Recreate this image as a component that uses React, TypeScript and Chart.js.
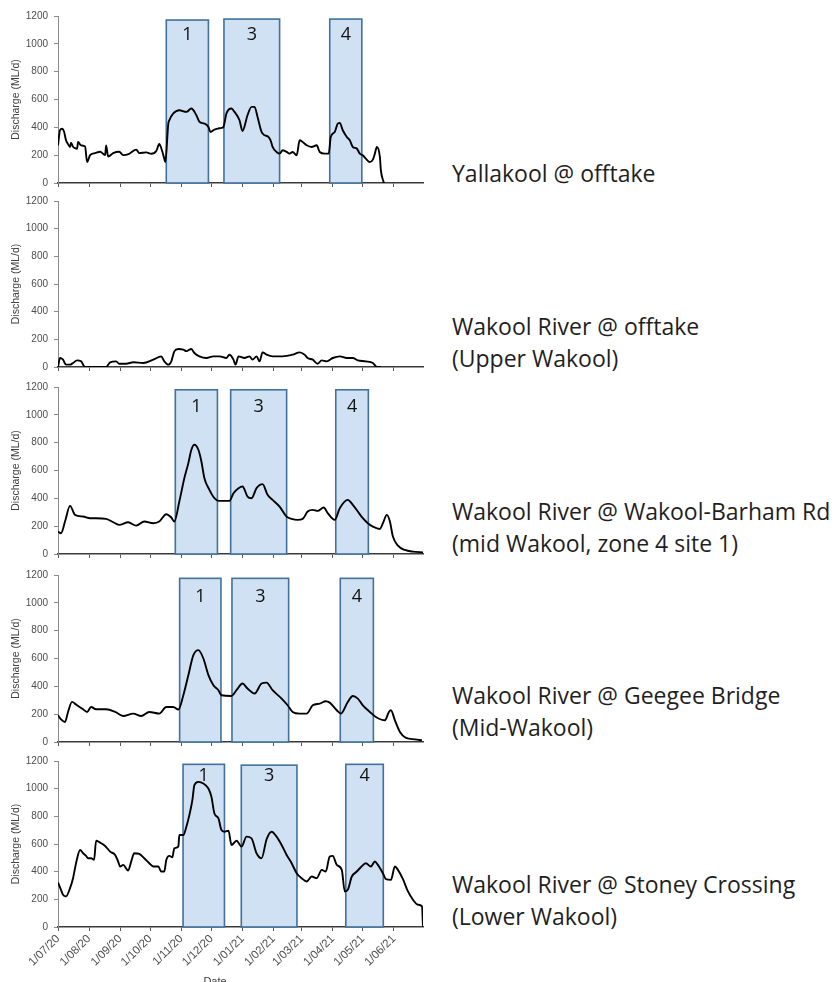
import { useEffect, useRef } from "react";
import { Chart, registerables } from "chart.js";
Chart.register(...registerables);

// x axis: day index from 1 Jul 2020 (0) to 30 Jun 2021 (364)
const monthTickDays = [0, 31, 62, 92, 123, 153, 184, 215, 243, 274, 304, 335];
const monthTickLabels = ["1/07/20", "1/08/20", "1/09/20", "1/10/20", "1/11/20", "1/12/20", "1/01/21", "1/02/21", "1/03/21", "1/04/21", "1/05/21", "1/06/21"];

const boxNumbers = ["1", "3", "4"];

// Yallakool @ offtake
const yallakoolDays = [0,2,4,6,8,10,12,13,15,17,19,20,23,27,29,32,37,42,47,48,50,55,61,65,71,78,81,88,93,98,101,103,106,107,110,111,115,121,128,133,138,141,146,150,152,156,163,165,168,173,176,181,184,189,193,196,199,203,206,209,212,214,218,221,224,228,231,234,238,241,244,248,253,258,261,266,270,272,276,279,281,284,288,291,294,298,301,304,307,311,314,316,318,321,322,325];
const yallakoolFlow = [270,380,390,370,307,280,259,290,260,250,245,295,270,262,151,200,215,225,200,270,190,215,225,200,210,240,215,220,210,230,280,250,175,150,427,450,500,523,511,535,487,440,427,403,367,384,396,403,500,535,511,451,374,487,547,547,475,367,343,336,307,259,223,211,235,223,211,223,199,307,295,271,259,271,223,211,211,331,367,427,432,379,331,307,259,247,211,199,175,151,168,211,259,187,91,0];
const yallakoolBoxStart = [108, 165.5, 271];
const yallakoolBoxEnd = [150, 221, 303];
const yallakoolBoxTop = [1171, 1178, 1178];

// Wakool River @ offtake
const wakoolOfftakeDays = [0,1,2,5,8,12,15,19,23,27,29,48,52,58,61,68,75,85,95,103,106,110,113,116,120,125,128,133,136,141,148,155,161,168,171,175,177,180,186,191,194,198,201,204,208,214,224,234,241,246,249,254,259,263,268,274,281,288,294,299,307,314,318,322];
const wakoolOfftakeFlow = [0,40,65,53,17,17,29,48,41,0,0,0,34,41,24,24,34,29,53,77,41,17,41,113,130,125,115,130,101,77,65,77,77,65,89,53,17,77,65,77,53,77,41,106,89,77,77,89,106,89,65,53,24,48,41,65,77,65,65,48,41,29,0,0];

// Wakool River @ Wakool-Barham Rd
const barhamDays = [0,3,7,12,17,25,32,38,48,57,61,70,78,86,95,101,108,113,116,121,126,130,133,136,140,143,146,151,156,160,171,175,180,184,189,193,198,204,209,214,221,228,233,239,244,249,254,259,265,269,276,281,289,294,299,304,309,314,321,324,328,331,334,339,346,354,364];
const barhamFlow = [161,149,233,346,281,269,257,257,252,221,209,228,204,233,221,233,286,262,233,377,545,653,749,785,749,665,545,461,401,382,382,437,473,485,413,401,473,502,425,389,341,269,252,245,252,305,317,310,334,293,245,329,389,353,305,257,221,197,180,221,281,233,125,60,29,17,12];
const barhamBoxStart = [117, 172.2, 277];
const barhamBoxEnd = [159, 228, 309.5];
const barhamBoxTop = [1180, 1180, 1180];

// Wakool River @ Geegee Bridge
const geegeeDays = [0,3,7,10,14,18,25,29,33,38,48,57,65,75,83,91,101,108,115,120,125,130,135,140,145,150,155,160,163,173,178,184,189,196,203,208,214,223,229,234,241,248,254,261,267,271,278,282,289,294,299,304,311,317,326,330,332,336,341,347,356,363];
const geegeeFlow = [192,163,144,216,288,269,235,216,252,235,235,216,187,204,187,216,204,252,252,233,336,480,624,660,600,480,408,372,336,331,372,420,384,348,420,427,372,312,264,216,204,204,264,276,293,283,228,204,288,331,312,264,216,180,156,216,228,156,72,29,19,12];
const geegeeBoxStart = [121.3, 173.5, 281.5];
const geegeeBoxEnd = [162.5, 230, 314.5];
const geegeeBoxTop = [1176, 1176, 1176];

// Wakool River @ Stoney Crossing
const stoneyDays = [0,3,5,8,12,15,18,22,25,28,30,33,36,38,42,47,52,57,60,62,65,70,73,76,81,86,91,95,100,103,106,108,111,114,116,120,121,125,128,131,134,136,140,145,150,153,156,160,163,166,170,173,178,183,188,193,198,203,208,213,218,223,228,233,238,243,248,253,258,263,267,271,274,278,283,286,289,293,298,302,307,312,316,319,324,327,332,336,339,344,349,354,359,363,364];
const stoneyFlow = [322,269,233,221,281,353,461,557,533,514,497,497,485,624,610,586,545,521,473,437,449,408,473,533,528,497,461,437,437,401,401,485,514,504,569,581,665,665,725,809,917,1025,1049,1037,1001,941,821,785,701,689,696,593,624,581,653,641,533,497,634,689,653,593,521,461,389,353,329,365,353,413,401,509,514,449,413,257,269,365,401,432,461,437,473,449,389,346,341,437,413,346,257,197,161,149,0];
const stoneyBoxStart = [124.7, 182.8, 287];
const stoneyBoxEnd = [166, 238.3, 324.4];
const stoneyBoxTop = [1176, 1170, 1176];

const siteLabels = [
  ["Yallakool @ offtake"],
  ["Wakool River @ offtake", "(Upper Wakool)"],
  ["Wakool River @ Wakool-Barham Rd", "(mid Wakool, zone 4 site 1)"],
  ["Wakool River @ Geegee Bridge", "(Mid-Wakool)"],
  ["Wakool River @ Stoney Crossing", "(Lower Wakool)"],
];

Chart.defaults.font.family = "'Liberation Sans', Arial, sans-serif";

const boxPlugin = {
  id: "eventBoxes",
  beforeDatasetsDraw(chart: any, _args: any, opts: any) {
    if (!opts || !opts.starts) return;
    const { ctx } = chart;
    const x = chart.scales.x;
    const y = chart.scales.y;
    ctx.save();
    for (let i = 0; i < opts.starts.length; i++) {
      const x0 = x.getPixelForValue(opts.starts[i]);
      const x1 = x.getPixelForValue(opts.ends[i]);
      const y0 = y.getPixelForValue(opts.tops[i]);
      const y1 = y.getPixelForValue(0);
      ctx.fillStyle = "#cfe1f3";
      ctx.fillRect(x0, y0, x1 - x0, y1 - y0);
      ctx.strokeStyle = "#41719c";
      ctx.lineWidth = 1.6;
      ctx.strokeRect(x0, y0, x1 - x0, y1 - y0);
    }
    ctx.restore();
  },
  afterDatasetsDraw(chart: any, _args: any, opts: any) {
    if (!opts || !opts.starts) return;
    const { ctx } = chart;
    const x = chart.scales.x;
    const y = chart.scales.y;
    ctx.save();
    ctx.font = "18px 'Open Sans', sans-serif";
    ctx.fillStyle = "#111";
    ctx.textAlign = "center";
    ctx.textBaseline = "middle";
    for (let i = 0; i < opts.starts.length; i++) {
      const cx = x.getPixelForValue((opts.starts[i] + opts.ends[i]) / 2);
      const cy = y.getPixelForValue(opts.labelValue);
      ctx.fillText(opts.numbers[i], cx, cy);
    }
    ctx.restore();
  },
};

type PanelCfg = {
  days: number[];
  flow: number[];
  boxes: any;
  canvasTop: number;
  height: number;
  xHeight: number;
  showXLabels: boolean;
};

// y tick label padding (6) + half label height (6) is reserved above/below the plot
const PAD = 12;

function Panel({ cfg }: { cfg: PanelCfg }) {
  const ref = useRef<HTMLCanvasElement>(null);
  useEffect(() => {
    const chart = new Chart(ref.current!, {
      type: "line",
      data: {
        datasets: [
          {
            data: cfg.days.map((d, i) => ({ x: d, y: cfg.flow[i] })),
            borderColor: "#000",
            borderWidth: 1.9,
            pointRadius: 0,
            cubicInterpolationMode: "monotone",
            fill: false,
          },
        ],
      },
      options: {
        responsive: false,
        animation: false,
        devicePixelRatio: 1,
        layout: { padding: { top: PAD, right: 17, left: 0, bottom: 0 } },
        plugins: {
          legend: { display: false },
          tooltip: { enabled: false },
          eventBoxes: cfg.boxes,
        } as any,
        scales: {
          x: {
            type: "linear",
            min: 0,
            max: 364,
            afterBuildTicks: (s: any) => {
              s.ticks = monthTickDays.map((v) => ({ value: v }));
            },
            ticks: {
              display: cfg.showXLabels,
              autoSkip: false,
              minRotation: 45,
              maxRotation: 45,
              padding: 1,
              color: "#4d4d4d",
              font: { size: 11.5 },
              callback: (_v: any, i: number) => monthTickLabels[i],
            },
            grid: { drawOnChartArea: false, drawTicks: true, tickLength: 4, color: "#595959" },
            border: { color: "#3a3a3a", width: 1.5 },
            afterFit: (s: any) => {
              s.height = cfg.xHeight;
            },
          },
          y: {
            min: 0,
            max: 1200,
            ticks: {
              stepSize: 200,
              padding: 6,
              color: "#4d4d4d",
              font: { size: 10 },
              callback: (v: any) => String(v),
            },
            grid: { drawOnChartArea: false, drawTicks: true, tickLength: 4, color: "#8a8a8a" },
            border: { color: "#8a8a8a", width: 1 },
            title: {
              display: true,
              text: "Discharge (ML/d)",
              color: "#404040",
              font: { size: 10.5 },
              padding: { top: 10, bottom: 0 },
            },
            afterFit: (s: any) => {
              s.width = 58;
            },
          },
        },
      },
      plugins: [boxPlugin],
    } as any);
    return () => chart.destroy();
  }, []);
  return (
    <canvas
      ref={ref}
      width={440}
      height={cfg.height}
      style={{ position: "absolute", left: 0, top: cfg.canvasTop, display: "block", width: 440, height: cfg.height }}
    />
  );
}

const labelTops = [157, 310, 495, 679, 868];

export default function App() {
  const panels: PanelCfg[] = [
    {
      days: yallakoolDays,
      flow: yallakoolFlow,
      boxes: { starts: yallakoolBoxStart, ends: yallakoolBoxEnd, tops: yallakoolBoxTop, numbers: boxNumbers, labelValue: 1063 },
      canvasTop: 16 - PAD,
      height: PAD + 167 + PAD,
      xHeight: PAD,
      showXLabels: false,
    },
    {
      days: wakoolOfftakeDays,
      flow: wakoolOfftakeFlow,
      boxes: {},
      canvasTop: 201 - PAD,
      height: PAD + 166 + PAD,
      xHeight: PAD,
      showXLabels: false,
    },
    {
      days: barhamDays,
      flow: barhamFlow,
      boxes: { starts: barhamBoxStart, ends: barhamBoxEnd, tops: barhamBoxTop, numbers: boxNumbers, labelValue: 1060 },
      canvasTop: 387 - PAD,
      height: PAD + 167 + PAD,
      xHeight: PAD,
      showXLabels: false,
    },
    {
      days: geegeeDays,
      flow: geegeeFlow,
      boxes: { starts: geegeeBoxStart, ends: geegeeBoxEnd, tops: geegeeBoxTop, numbers: boxNumbers, labelValue: 1044 },
      canvasTop: 575 - PAD,
      height: PAD + 167 + PAD,
      xHeight: PAD,
      showXLabels: false,
    },
    {
      days: stoneyDays,
      flow: stoneyFlow,
      boxes: { starts: stoneyBoxStart, ends: stoneyBoxEnd, tops: stoneyBoxTop, numbers: boxNumbers, labelValue: 1090 },
      canvasTop: 761 - PAD,
      height: PAD + 166 + 50,
      xHeight: 50,
      showXLabels: true,
    },
  ];
  return (
    <div style={{ position: "absolute", left: 0, top: 0, width: 836, height: 982, overflow: "hidden", background: "#fff" }}>
      {panels.map((p, i) => (
        <Panel key={i} cfg={p} />
      ))}
      {siteLabels.map((lines, i) => (
        <div
          key={i}
          style={{
            position: "absolute",
            left: 452,
            top: labelTops[i],
            fontFamily: "'Open Sans', sans-serif",
            fontSize: 23,
            lineHeight: "32px",
            color: "#1f1f1f",
            whiteSpace: "nowrap",
          }}
        >
          {lines.map((t, j) => (
            <div key={j}>{t}</div>
          ))}
        </div>
      ))}
      <div
        style={{
          position: "absolute",
          left: 195,
          top: 975,
          width: 40,
          textAlign: "center",
          fontFamily: "'Liberation Sans', Arial, sans-serif",
          fontSize: 11,
          lineHeight: "12px",
          color: "#404040",
        }}
      >
        Date
      </div>
    </div>
  );
}
